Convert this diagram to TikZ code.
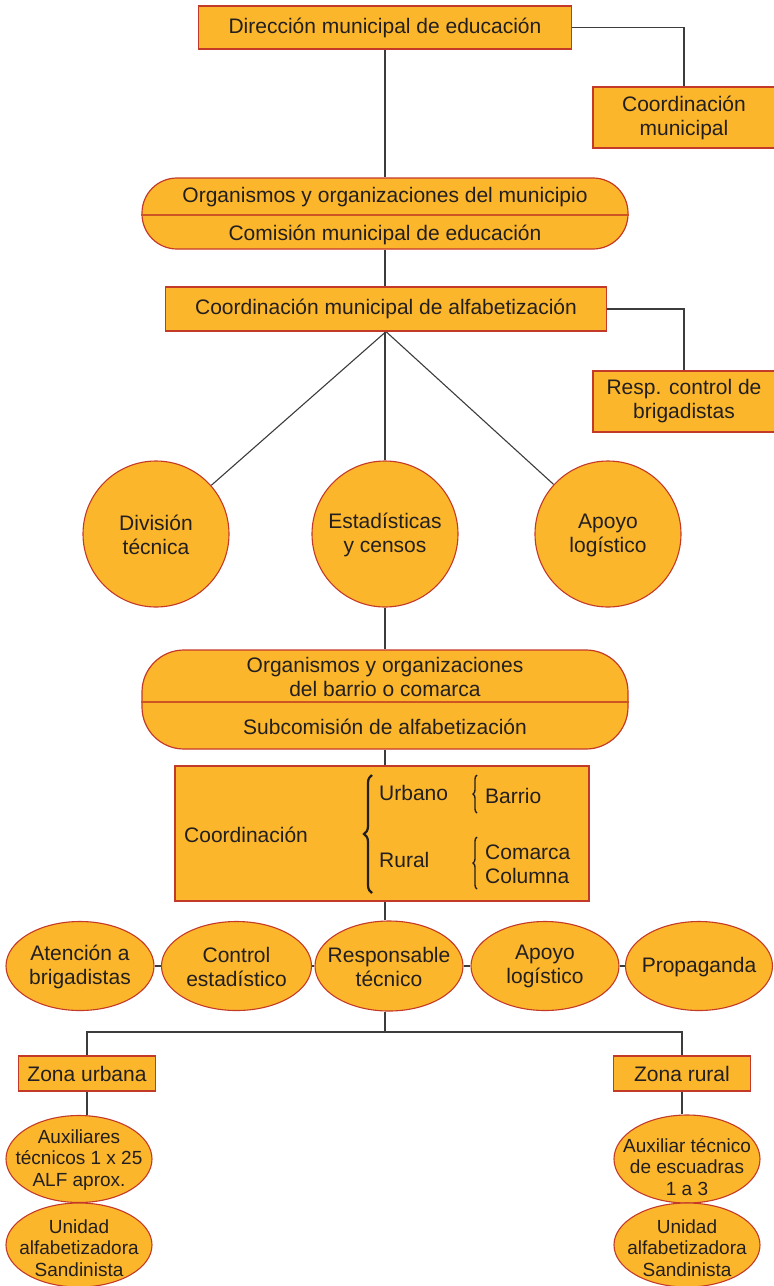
\documentclass[tikz,border=0pt]{standalone}
\usepackage{fontspec}
\setmainfont{Liberation Sans}
\usetikzlibrary{shapes.geometric,decorations.pathreplacing}
\definecolor{borange}{RGB}{251,182,43}
\definecolor{bred}{RGB}{196,58,40}
\definecolor{dline}{RGB}{205,85,35}
\definecolor{lcol}{RGB}{60,60,60}
\definecolor{tcol}{RGB}{35,31,32}
\newcommand{\fsA}{\fontsize{21}{24}\selectfont}
\newcommand{\fsB}{\fontsize{19}{21.5}\selectfont}
\pgfdeclarelayer{bg}
\pgfsetlayers{bg,main}
\begin{document}
\begin{tikzpicture}[x=1pt,y=-1pt,
 box/.style={rectangle,draw=bred,fill=borange,line width=1.2pt,inner sep=0pt,font=\fsA,text=tcol,align=center},
 pill/.style={rectangle,draw=bred,fill=borange,line width=1.2pt,inner sep=0pt,minimum width=486pt},
 ell/.style={ellipse,draw=bred,fill=borange,line width=1.1pt,inner sep=0pt},
 circ/.style={circle,draw=bred,fill=borange,line width=1.1pt,inner sep=0pt,minimum size=146pt},
 txt/.style={inner sep=0pt,font=\fsA,text=tcol,align=center},
 txtS/.style={inner sep=0pt,font=\fsB,text=tcol,align=center},
 conn/.style={draw=lcol,line width=1.1pt},
 divline/.style={draw=dline,line width=1.2pt},
 bracebig/.style={decorate,decoration={brace,amplitude=8pt},line width=2.2pt,draw=tcol},
 bracesmall/.style={decorate,decoration={brace,amplitude=4pt},line width=1.4pt,draw=tcol},
]
\useasboundingbox (0,0) rectangle (774,1286);

% top part
\node[box,minimum width=373pt,minimum height=43pt] (top) at (385,27.5) {Dirección municipal de educación};
\node[box,minimum width=182pt,minimum height=61pt] (cm) at (684,117.5) {Coordinación\\municipal};

\node[pill,minimum height=71pt,rounded corners=35pt] (p1) at (385,213.5) {};
\coordinate (d1) at (0,215);
\draw[divline] (p1.west |- d1) -- (p1.east |- d1);
\node[txt] (p1a) at (385,197) {Organismos y organizaciones del municipio};
\node[txt] (p1b) at (385,234.5) {Comisión municipal de educación};

\node[box,minimum width=441pt,minimum height=44pt] (cma) at (386,309) {Coordinación municipal de alfabetización};
\node[box,minimum width=182pt,minimum height=61pt] (resp) at (684,401.5) {Resp. control de\\brigadistas};

% circles
\node[circ] (div) at (156,534) {};
\node[circ] (est) at (385,534) {};
\node[circ] (apo) at (608,534) {};
\node[txt] (divt) at (156,535) {División\\técnica};
\node[txt] (estt) at (385,535) {Estadísticas\\y censos};
\node[txt] (apot) at (608,535) {Apoyo\\logístico};

% pill 2
\node[pill,minimum height=99pt,rounded corners=42pt] (p2) at (385,699.5) {};
\coordinate (d2) at (0,702);
\draw[divline] (p2.west |- d2) -- (p2.east |- d2);
\node[txt] (p2a) at (385,676.5) {Organismos y organizaciones\\del barrio o comarca};
\node[txt] (p2b) at (385,727) {Subcomisión de alfabetización};

% coordination box
\node[rectangle,draw=bred,fill=borange,line width=2.5pt,inner sep=0pt,minimum width=414pt,minimum height=135pt] (cb) at (382,833.5) {};
\node[txt,anchor=west] (cbt) at (184,835) {Coordinación};
\node[txt,anchor=west] (urb) at (379,793) {Urbano};
\node[txt,anchor=west] (rur) at (379,860) {Rural};
\node[txt,anchor=west] (bar) at (485,796) {Barrio};
\node[txt,anchor=west,align=left] (com) at (485,864) {Comarca\\Columna};
\coordinate (bb1) at (372,893);
\coordinate (bb2) at (372,775);
\draw[bracebig] (bb1) -- (bb2);
\coordinate (sb1) at (477,813);
\coordinate (sb2) at (477,775);
\draw[bracesmall] (sb1) -- (sb2);
\coordinate (sc1) at (477,889);
\coordinate (sc2) at (477,837);
\draw[bracesmall] (sc1) -- (sc2);

% row of ellipses
\node[ell,minimum width=148pt,minimum height=89pt] (e1) at (80,966) {};
\node[ell,minimum width=150pt,minimum height=89pt] (e2) at (236.5,966) {};
\node[ell,minimum width=148pt,minimum height=90pt] (e3) at (389,966) {};
\node[ell,minimum width=148pt,minimum height=89pt] (e4) at (545,966) {};
\node[ell,minimum width=147pt,minimum height=89pt] (e5) at (699,966) {};
\node[txt] (e1t) at (80,966.5) {Atención a\\brigadistas};
\node[txt] (e2t) at (236.5,966.5) {Control\\estadístico};
\node[txt] (e3t) at (389,966.5) {Responsable\\técnico};
\node[txt] (e4t) at (545,966.5) {Apoyo\\logístico};
\node[txt] (e5t) at (699,967) {Propaganda};

% zones
\node[box,minimum width=137pt,minimum height=35pt] (zu) at (87,1073.5) {Zona urbana};
\node[box,minimum width=137pt,minimum height=35pt] (zr) at (682,1073.5) {Zona rural};
\coordinate (hub) at (385,1032);

\node[ell,minimum width=146pt,minimum height=87pt] (a1) at (79,1159) {};
\node[ell,minimum width=146pt,minimum height=84pt] (u1) at (79,1245) {};
\node[ell,minimum width=146pt,minimum height=88pt] (a2) at (687,1159) {};
\node[ell,minimum width=146pt,minimum height=84pt] (u2) at (687,1245) {};
\node[txtS] (a1t) at (79,1160) {Auxiliares\\técnicos 1 x 25\\ALF aprox.};
\node[txtS] (u1t) at (79,1248) {Unidad\\alfabetizadora\\Sandinista};
\node[txtS] (a2t) at (687,1167) {Auxiliar técnico\\de escuadras\\1 a 3};
\node[txtS] (u2t) at (687,1248) {Unidad\\alfabetizadora\\Sandinista};

% connectors
\begin{pgfonlayer}{bg}
\draw[conn] (top.east) -| (cm.north);
\draw[conn] (top.south) -- (p1.north);
\draw[conn] (p1.south) -- (p1.south |- cma.north);
\draw[conn] (cma.east) -| (resp.north);
\draw[conn] (cma.south) -- (div);
\draw[conn] (cma.south -| est) -- (est);
\draw[conn] (cma.south) -- (apo);
\draw[conn] (est.south) -- (p2.north);
\draw[conn] (p2.south) -- (p2.south |- cb.north);
\draw[conn] (cb.north -| p2.south) -- (hub |- e3.north);
\draw[conn] (e1) -- (e2);
\draw[conn] (e2) -- (e3);
\draw[conn] (e3) -- (e4);
\draw[conn] (e4) -- (e5);
\draw[conn] (hub |- e3.south) -- (hub);
\draw[conn] (zu.north) |- (hub) -| (zr.north);
\draw[conn] (zu.south) -- (zu.south |- a1.north);
\draw[conn] (zr.south) -- (zr.south |- a2.north);
\end{pgfonlayer}
\end{tikzpicture}
\end{document}
